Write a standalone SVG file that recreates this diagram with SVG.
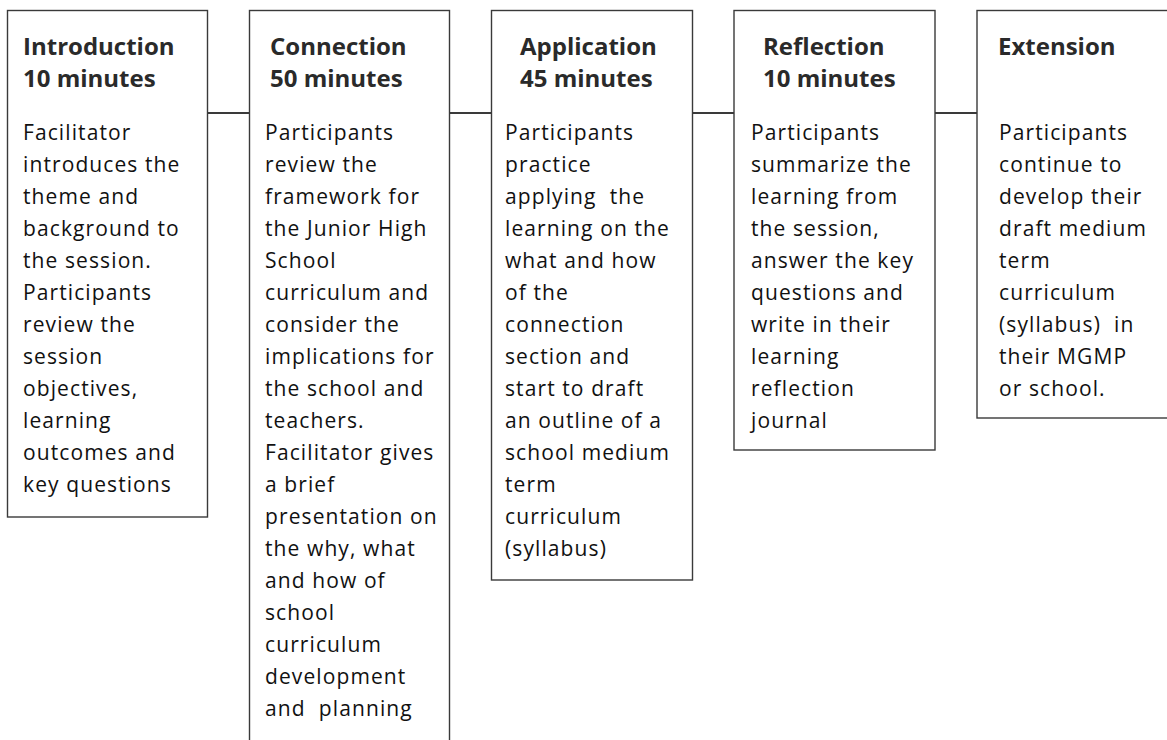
<svg xmlns="http://www.w3.org/2000/svg" width="1167" height="740" viewBox="0 0 1167 740">
<style>
.box{fill:#fff;stroke:#3a3a3a;stroke-width:1.4}
.conn{stroke:#3a3a3a;stroke-width:2;fill:none}
.t{font-family:"Open Sans","Liberation Sans",sans-serif;font-weight:bold;font-size:24px;fill:#2a2a2a}
.b{font-family:"Open Sans","Liberation Sans",sans-serif;font-size:21px;letter-spacing:1.1px;fill:#111}
</style>
<rect width="1167" height="740" fill="#fff"/>
<g id="connectors">
<line class="conn" x1="207.5" y1="113" x2="249.5" y2="113"/>
<line class="conn" x1="449.5" y1="113" x2="491.5" y2="113"/>
<line class="conn" x1="692.5" y1="113" x2="734" y2="113"/>
<line class="conn" x1="935" y1="113" x2="977" y2="113"/>
</g>
<g id="introduction">
<rect class="box" x="7.5" y="10.5" width="200" height="506.5"/>
<text class="t" x="23"><tspan x="23" y="54.5">Introduction</tspan><tspan x="23" y="87">10 minutes</tspan></text>
<text class="b"><tspan x="23" y="139.5">Facilitator</tspan><tspan x="23" y="171.5">introduces the</tspan><tspan x="23" y="203.5">theme and</tspan><tspan x="23" y="235.5">background to</tspan><tspan x="23" y="267.5">the session.</tspan><tspan x="23" y="299.5">Participants</tspan><tspan x="23" y="331.5">review the</tspan><tspan x="23" y="363.5">session</tspan><tspan x="23" y="395.5">objectives,</tspan><tspan x="23" y="427.5">learning</tspan><tspan x="23" y="459.5">outcomes and</tspan><tspan x="23" y="491.5">key questions</tspan></text>
</g>
<g id="connection">
<rect class="box" x="249.5" y="10.5" width="200" height="740"/>
<text class="t"><tspan x="270" y="54.5">Connection</tspan><tspan x="270" y="87">50 minutes</tspan></text>
<text class="b"><tspan x="265" y="139.5">Participants</tspan><tspan x="265" y="171.5">review the</tspan><tspan x="265" y="203.5">framework for</tspan><tspan x="265" y="235.5">the Junior High</tspan><tspan x="265" y="267.5">School</tspan><tspan x="265" y="299.5">curriculum and</tspan><tspan x="265" y="331.5">consider the</tspan><tspan x="265" y="363.5">implications for</tspan><tspan x="265" y="395.5">the school and</tspan><tspan x="265" y="427.5">teachers.</tspan><tspan x="265" y="459.5">Facilitator gives</tspan><tspan x="265" y="491.5">a brief</tspan><tspan x="265" y="523.5">presentation on</tspan><tspan x="265" y="555.5">the why, what</tspan><tspan x="265" y="587.5">and how of</tspan><tspan x="265" y="619.5">school</tspan><tspan x="265" y="651.5">curriculum</tspan><tspan x="265" y="683.5">development</tspan><tspan x="265" y="715.5" xml:space="preserve">and  planning</tspan></text>
</g>
<g id="application">
<rect class="box" x="491.5" y="10.5" width="201" height="569.5"/>
<text class="t"><tspan x="520" y="54.5">Application</tspan><tspan x="520" y="87">45 minutes</tspan></text>
<text class="b"><tspan x="505" y="139.5">Participants</tspan><tspan x="505" y="171.5">practice</tspan><tspan x="505" y="203.5" xml:space="preserve">applying  the</tspan><tspan x="505" y="235.5">learning on the</tspan><tspan x="505" y="267.5">what and how</tspan><tspan x="505" y="299.5">of the</tspan><tspan x="505" y="331.5">connection</tspan><tspan x="505" y="363.5">section and</tspan><tspan x="505" y="395.5">start to draft</tspan><tspan x="505" y="427.5">an outline of a</tspan><tspan x="505" y="459.5">school medium</tspan><tspan x="505" y="491.5">term</tspan><tspan x="505" y="523.5">curriculum</tspan><tspan x="505" y="555.5">(syllabus)</tspan></text>
</g>
<g id="reflection">
<rect class="box" x="734" y="10.5" width="201" height="439.5"/>
<text class="t"><tspan x="763" y="54.5">Reflection</tspan><tspan x="763" y="87">10 minutes</tspan></text>
<text class="b"><tspan x="751" y="139.5">Participants</tspan><tspan x="751" y="171.5">summarize the</tspan><tspan x="751" y="203.5">learning from</tspan><tspan x="751" y="235.5">the session,</tspan><tspan x="751" y="267.5">answer the key</tspan><tspan x="751" y="299.5">questions and</tspan><tspan x="751" y="331.5">write in their</tspan><tspan x="751" y="363.5">learning</tspan><tspan x="751" y="395.5">reflection</tspan><tspan x="751" y="427.5">journal</tspan></text>
</g>
<g id="extension">
<rect class="box" x="977" y="10.5" width="210" height="407.5"/>
<text class="t"><tspan x="998" y="54.5">Extension</tspan></text>
<text class="b"><tspan x="999" y="139.5">Participants</tspan><tspan x="999" y="171.5">continue to</tspan><tspan x="999" y="203.5">develop their</tspan><tspan x="999" y="235.5">draft medium</tspan><tspan x="999" y="267.5">term</tspan><tspan x="999" y="299.5">curriculum</tspan><tspan x="999" y="331.5" xml:space="preserve">(syllabus)  in</tspan><tspan x="999" y="363.5">their MGMP</tspan><tspan x="999" y="395.5">or school.</tspan></text>
</g>
</svg>
